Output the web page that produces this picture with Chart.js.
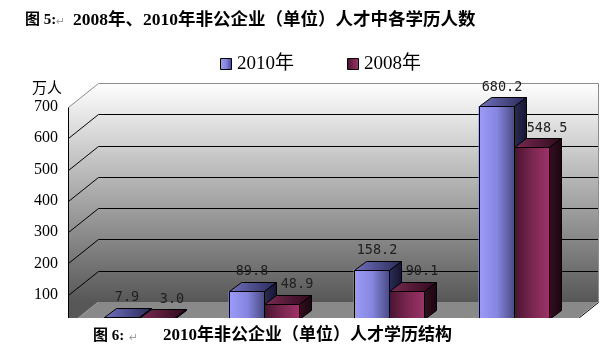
<!DOCTYPE html>
<html>
<head>
<meta charset="utf-8">
<script src="https://cdn.jsdelivr.net/npm/chart.js@4.4.0/dist/chart.umd.min.js"></script>
<style>
  html, body { margin: 0; padding: 0; background: #fff; }
  #wrap { width: 616px; height: 355px; }
</style>
</head>
<body>
<div id="wrap"><canvas id="eduChart"></canvas></div>
<script>
// categories are cut off in the picture, kept only as names
const categories = ['研究生', '大学本科', '大学专科', '中专及以下'];
const seriesLabels = ['2010年', '2008年'];
const values2010 = [7.9, 89.8, 158.2, 680.2];
const values2008 = [3.0, 48.9, 90.1, 548.5];
const yTicks = [0, 100, 200, 300, 400, 500, 600, 700];

const titleText = '2008年、2010年非公企业（单位）人才中各学历人数';
const captionText = '2010年非公企业（单位）人才学历结构';
const unitText = '万人';

// offsets of the front axis plane and back wall, relative to the plane the bars are on
const FRONT = { x: -8, y: 7 };
const BACK = { x: 22, y: -17 };
const BAR_DEPTH = { x: 12, y: -9 };
const LABEL_DX = [6, 16];

const faceColors = [
    { front: ['#9c9cf8', '#8686e0', '#4a4a82'], top: ['#7070c0', '#2a2a56'], side: ['#2c2c54', '#141430'] },
    { front: ['#4a1430', '#7a2650', '#9c3468'], top: ['#7a2a52', '#2e0a1c'], side: ['#33101f', '#1a0610'] }
];

function hGrad(ctx, x1, x2, stops) {
    const g = ctx.createLinearGradient(x1, 0, x2, 0);
    stops.forEach((c, i) => g.addColorStop(i / (stops.length - 1), c));
    return g;
}

function poly(ctx, pts, fill, stroke) {
    ctx.beginPath();
    ctx.moveTo(pts[0][0], pts[0][1]);
    for (let i = 1; i < pts.length; i++) ctx.lineTo(pts[i][0], pts[i][1]);
    ctx.closePath();
    if (fill) { ctx.fillStyle = fill; ctx.fill(); }
    if (stroke) { ctx.strokeStyle = stroke; ctx.lineWidth = 1; ctx.stroke(); }
}

function line(ctx, x1, y1, x2, y2, color) {
    ctx.beginPath();
    ctx.moveTo(Math.round(x1) + 0.5, Math.round(y1) + 0.5);
    ctx.lineTo(Math.round(x2) + 0.5, Math.round(y2) + 0.5);
    ctx.strokeStyle = color;
    ctx.lineWidth = 1;
    ctx.stroke();
}

const walls3d = {
    id: 'walls3d',
    beforeDatasetsDraw(chart) {
        const { ctx, chartArea: a, scales: { y } } = chart;
        const y0 = y.getPixelForValue(0);
        const yTop = y.getPixelForValue(yTicks[yTicks.length - 1]);
        ctx.save();
        const wall = ctx.createLinearGradient(0, yTop + BACK.y, 0, y0 + BACK.y);
        wall.addColorStop(0, '#ffffff');
        wall.addColorStop(1, '#575757');
        // back wall
        ctx.fillStyle = wall;
        ctx.fillRect(a.left + BACK.x, yTop + BACK.y, a.right - a.left, y0 - yTop);
        // side wall
        poly(ctx, [[a.left + FRONT.x, yTop + FRONT.y], [a.left + BACK.x, yTop + BACK.y],
                   [a.left + BACK.x, y0 + BACK.y], [a.left + FRONT.x, y0 + FRONT.y]], wall);
        // floor
        poly(ctx, [[a.left + BACK.x, y0 + BACK.y], [a.right + BACK.x, y0 + BACK.y],
                   [a.right + FRONT.x, y0 + FRONT.y], [a.left + FRONT.x, y0 + FRONT.y]], '#898989');
        // gridlines
        yTicks.slice(1, -1).forEach(v => {
            const p = y.getPixelForValue(v);
            line(ctx, a.left + BACK.x, p + BACK.y, a.right + BACK.x, p + BACK.y, '#000');
            line(ctx, a.left + FRONT.x, p + FRONT.y, a.left + BACK.x, p + BACK.y, '#000');
        });
        // edges
        line(ctx, a.left + BACK.x, yTop + BACK.y, a.right + BACK.x, yTop + BACK.y, '#8c8c8c');
        line(ctx, a.right + BACK.x, yTop + BACK.y, a.right + BACK.x, y0 + BACK.y, '#8c8c8c');
        line(ctx, a.left + FRONT.x, yTop + FRONT.y, a.left + BACK.x, yTop + BACK.y, '#8c8c8c');
        line(ctx, a.right + BACK.x, y0 + BACK.y, a.right + FRONT.x, y0 + FRONT.y, '#000');
        line(ctx, a.left + FRONT.x, yTop + FRONT.y, a.left + FRONT.x, y0 + FRONT.y, '#000');
        ctx.restore();
    },
    afterDatasetsDraw(chart) {
        const ctx = chart.ctx;
        ctx.save();
        ctx.lineJoin = 'round';
        chart.data.datasets.forEach((ds, di) => {
            const c = faceColors[di];
            chart.getDatasetMeta(di).data.forEach(bar => {
                const { x, y, base, width } = bar.getProps(['x', 'y', 'base', 'width'], true);
                const l = Math.round(x - width / 2) + 0.5, r = Math.round(x + width / 2) + 0.5;
                const t = Math.round(y) + 0.5, b = Math.round(base) + 0.5;
                const dx = BAR_DEPTH.x, dy = BAR_DEPTH.y;
                poly(ctx, [[l, t], [r, t], [r, b], [l, b]], hGrad(ctx, l, r, c.front), '#000');
                poly(ctx, [[l, t], [r, t], [r + dx, t + dy], [l + dx, t + dy]], hGrad(ctx, l, r + dx, c.top), '#000');
                poly(ctx, [[r, t], [r + dx, t + dy], [r + dx, b + dy], [r, b]], hGrad(ctx, r, r + dx, c.side), '#000');
            });
        });
        // value labels
        ctx.font = '13.5px "DejaVu Sans Mono", monospace';
        ctx.fillStyle = '#202020';
        ctx.textAlign = 'center';
        ctx.textBaseline = 'middle';
        chart.data.datasets.forEach((ds, di) => {
            chart.getDatasetMeta(di).data.forEach((bar, i) => {
                ctx.fillText(ds.data[i].toFixed(1), bar.x + LABEL_DX[di], bar.y - 19);
            });
        });
        ctx.restore();
    },
    afterDraw(chart) {
        const ctx = chart.ctx;
        ctx.save();
        // picture is cut off just under the bars
        ctx.fillStyle = '#fff';
        ctx.fillRect(0, 318, chart.width, chart.height - 318);
        ctx.textBaseline = 'middle';
        ctx.textAlign = 'left';
        ctx.fillStyle = '#000';

        // title
        ctx.font = 'bold 15px "Liberation Serif", "Noto Sans CJK SC"';
        ctx.fillText('图 5:', 25, 20);
        ctx.font = 'bold 17.5px "Liberation Serif", "Noto Sans CJK SC"';
        ctx.fillText(titleText, 73, 20);

        // caption under the chart
        ctx.font = 'bold 15px "Liberation Serif", "Noto Sans CJK SC"';
        ctx.fillText('图 6:', 93, 336);
        ctx.font = 'bold 17px "Liberation Serif", "Noto Sans CJK SC"';
        ctx.fillText(captionText, 163, 336);

        ctx.font = '11px "DejaVu Sans"';
        ctx.fillStyle = '#a0a0a0';
        ctx.fillText('\u21b5', 56, 22);
        ctx.fillText('\u21b5', 129, 338);

        // unit
        ctx.fillStyle = '#000';
        ctx.font = '15px "Noto Sans CJK SC"';
        ctx.fillText(unitText, 32, 87);

        // legend
        const legendX = [220, 347];
        chart.data.datasets.forEach((ds, di) => {
            const bx = legendX[di] + 0.5, by = 58.5;
            poly(ctx, [[bx, by], [bx + 11, by], [bx + 11, by + 11], [bx, by + 11]],
                 hGrad(ctx, bx, bx + 11, faceColors[di].front), '#000');
            ctx.fillStyle = '#000';
            ctx.font = '19px "Liberation Serif", "Noto Sans CJK SC"';
            ctx.fillText(ds.label, legendX[di] + 17, 64);
        });
        ctx.restore();
    }
};

new Chart(document.getElementById('eduChart'), {
    type: 'bar',
    data: {
        labels: categories,
        datasets: [
            { label: seriesLabels[0], data: values2010, backgroundColor: '#8a8ae4', borderWidth: 0 },
            { label: seriesLabels[1], data: values2008, backgroundColor: '#7a2650', borderWidth: 0 }
        ]
    },
    options: {
        responsive: true,
        maintainAspectRatio: false,
        animation: false,
        layout: { padding: { top: 100, bottom: 36, left: 0, right: 40 } },
        datasets: { bar: { categoryPercentage: 0.56, barPercentage: 1 } },
        plugins: { legend: { display: false }, title: { display: false }, tooltip: { enabled: false } },
        scales: {
            x: { display: false },
            y: {
                min: yTicks[0],
                max: yTicks[yTicks.length - 1],
                afterFit: s => { s.width = 76; },
                afterBuildTicks: s => { s.ticks = yTicks.map(v => ({ value: v })); },
                grid: { display: false, drawTicks: false },
                border: { display: false },
                ticks: {
                    padding: 18,
                    labelOffset: 7,
                    color: '#000',
                    font: { family: '"Liberation Serif"', size: 16 },
                    callback: v => (v === 0 ? '' : v)
                }
            }
        }
    },
    plugins: [walls3d]
});
</script>
</body>
</html>
